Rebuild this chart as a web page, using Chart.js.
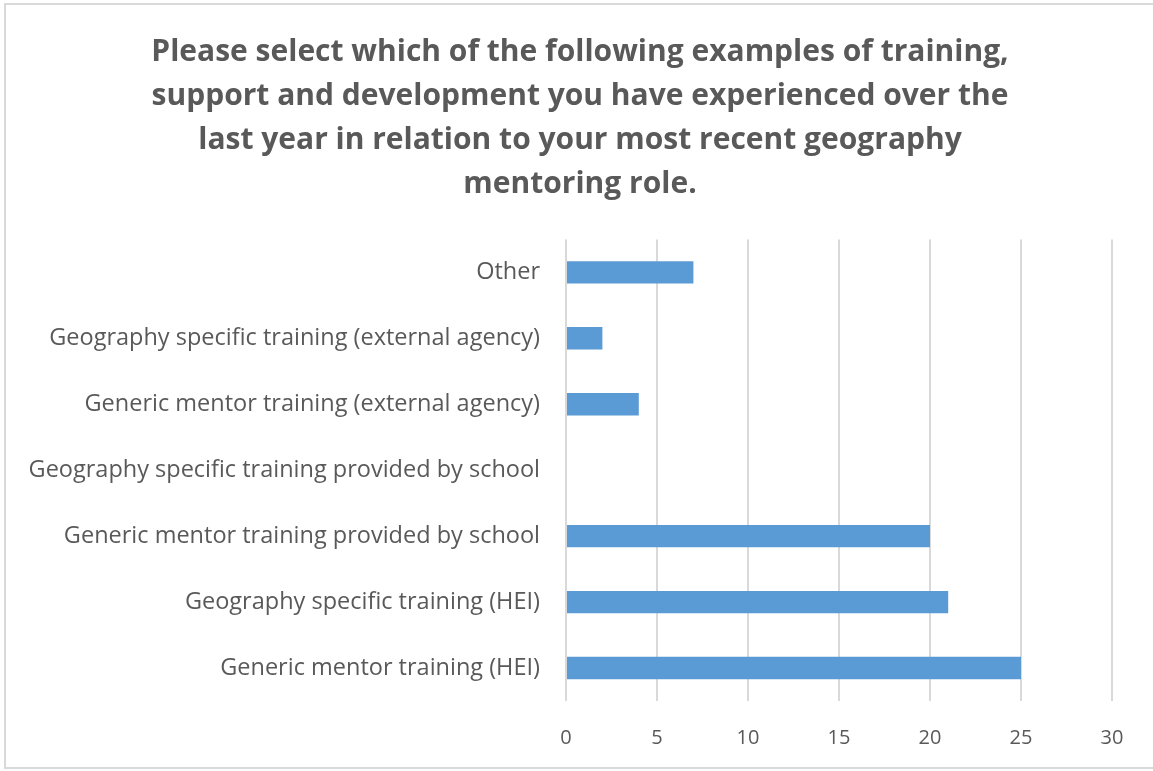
<!DOCTYPE html>
<html>
<head>
<meta charset="utf-8">
<script src="https://cdn.jsdelivr.net/npm/chart.js@4/dist/chart.umd.min.js"></script>
<style>
html,body{margin:0;padding:0;background:#fff;}
#wrap{width:1153px;height:771px;position:relative;}
</style>
</head>
<body>
<div id="wrap"><canvas id="c" width="1153" height="771"></canvas></div>
<script>
const categories = [
  "Other",
  "Geography specific training (external agency)",
  "Generic mentor training (external agency)",
  "Geography specific training provided by school",
  "Generic mentor training provided by school",
  "Geography specific training (HEI)",
  "Generic mentor training (HEI)"
];
const counts = [7, 2, 4, 0, 20, 21, 25];
const titleLines = [
  "Please select which of the following examples of training,",
  "support and development you have experienced over the",
  "last year in relation to your most recent geography",
  "mentoring role."
];
const xMin = 0, xMax = 30, xStep = 5;

const frame = {
  id: 'frame',
  beforeDraw(chart) {
    const ctx = chart.ctx;
    ctx.save();
    ctx.fillStyle = '#ffffff';
    ctx.fillRect(0, 0, chart.width, chart.height);
    ctx.strokeStyle = '#d9d9d9';
    ctx.lineWidth = 2;
    ctx.strokeRect(5, 4, chart.width + 10, chart.height - 7);
    ctx.restore();
  }
};

new Chart(document.getElementById('c'), {
  type: 'bar',
  data: {
    labels: categories,
    datasets: [{
      data: counts,
      backgroundColor: '#5b9bd5',
      borderWidth: 0,
      categoryPercentage: 1,
      barPercentage: 0.34
    }]
  },
  options: {
    indexAxis: 'y',
    responsive: false,
    animation: false,
    layout: { padding: { left: 7, right: 0, top: 0, bottom: 0 } },
    plugins: {
      legend: { display: false },
      tooltip: { enabled: false },
      title: {
        display: true,
        text: titleLines,
        color: '#595959',
        font: { family: 'Open Sans', size: 30, weight: 'bold', lineHeight: 1.47 },
        padding: { top: 30, bottom: 33 }
      }
    },
    scales: {
      x: {
        min: xMin, max: xMax,
        ticks: { stepSize: xStep, color: '#595959', font: { family: 'Open Sans', size: 20 }, padding: 25 },
        grid: { color: '#d9d9d9', lineWidth: 2, drawTicks: false },
        border: { display: false },
        afterFit(scale) { scale.height = 70; scale.paddingRight = 41; }
      },
      y: {
        ticks: { color: '#595959', font: { family: 'Open Sans', size: 23.5 }, padding: 26, autoSkip: false },
        grid: { display: false, drawTicks: false },
        border: { display: false },
        afterFit(scale) { scale.width = 559; }
      }
    }
  },
  plugins: [frame]
});
</script>
</body>
</html>
